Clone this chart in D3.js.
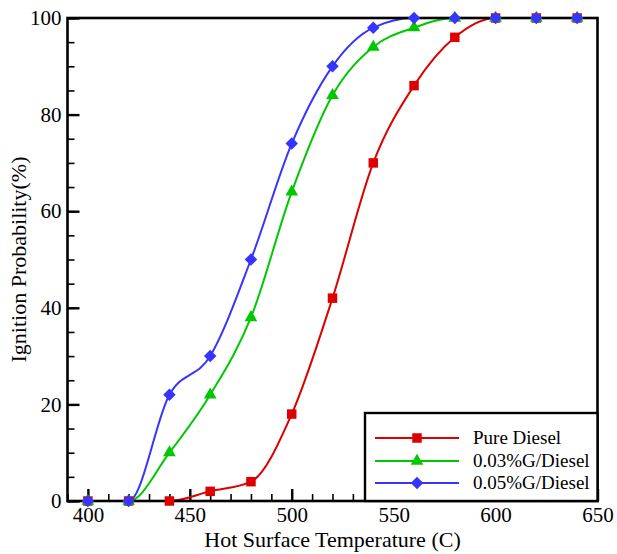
<!DOCTYPE html>
<html>
<head>
<meta charset="utf-8">
<script src="https://cdn.jsdelivr.net/npm/d3@7"></script>
<style>
  html, body { margin: 0; padding: 0; background: #fff; }
  svg { display: block; font-family: "Liberation Serif", "Times New Roman", serif; }
</style>
</head>
<body>
<svg id="chart" width="617" height="554"></svg>
<script>
// Hot surface temperatures (C)
const temperatures = [400, 420, 440, 460, 480, 500, 520, 540, 560, 580, 600, 620, 640];

// Ignition probability (%) per fuel
const pureDiesel = [0, 0, 0, 2, 4, 18, 42, 70, 86, 96, 100, 100, 100];
const g003Diesel = [0, 0, 10, 22, 38, 64, 84, 94, 98, 100, 100, 100, 100];
const g005Diesel = [0, 0, 22, 30, 50, 74, 90, 98, 100, 100, 100, 100, 100];

const seriesNames = ["Pure Diesel", "0.03%G/Diesel", "0.05%G/Diesel"];

// Axis ticks
const xMajorTicks = [400, 450, 500, 550, 600, 650];
const xMinorTicks = d3.range(390, 651, 10);
const yMajorTicks = [0, 20, 40, 60, 80, 100];
const yMinorTicks = d3.range(0, 101, 5);

const serifFont = "'Liberation Serif', 'Times New Roman', serif";

const svg = d3.select("#chart");
const plotLeft = 67.5, plotRight = 597.5, plotTop = 18, plotBottom = 501;

const x = d3.scaleLinear().domain([390, 650]).range([plotLeft, plotRight]);
const y = d3.scaleLinear().domain([0, 100]).range([plotBottom, plotTop]);

// Marker shapes: square, triangle, and a square turned 45 degrees
const series = [
  { name: seriesNames[0], values: pureDiesel, color: "#dd0000", symbol: d3.symbolSquare, size: 90, rotate: 0 },
  { name: seriesNames[1], values: g003Diesel, color: "#00c800", symbol: d3.symbolTriangle, size: 70, rotate: 0 },
  { name: seriesNames[2], values: g005Diesel, color: "#3535ff", symbol: d3.symbolSquare, size: 78, rotate: 45 }
];

// Inward ticks: minor then major
const tickStyle = g => {
  g.attr("font-family", serifFont).attr("font-size", 21);
  g.select(".domain").remove();
  g.selectAll(".tick line").attr("stroke", "#000").attr("stroke-width", 1.6);
  g.selectAll(".tick text").attr("fill", "#000");
};

svg.append("g").attr("transform", `translate(0,${plotBottom})`)
  .call(d3.axisBottom(x).tickValues(xMinorTicks).tickSize(-7).tickFormat(""))
  .call(tickStyle);
svg.append("g").attr("transform", `translate(0,${plotBottom})`)
  .call(d3.axisBottom(x).tickValues(xMajorTicks).tickSize(-12).tickPadding(6).tickFormat(d3.format("d")))
  .call(tickStyle)
  .call(g => g.selectAll(".tick line").attr("stroke-width", 2.4));

svg.append("g").attr("transform", `translate(${plotLeft},0)`)
  .call(d3.axisLeft(y).tickValues(yMinorTicks).tickSize(-7).tickFormat(""))
  .call(tickStyle);
svg.append("g").attr("transform", `translate(${plotLeft},0)`)
  .call(d3.axisLeft(y).tickValues(yMajorTicks).tickSize(-12).tickPadding(6).tickFormat(d3.format("d")))
  .call(tickStyle)
  .call(g => g.selectAll(".tick line").attr("stroke-width", 2.4));

// Curves and markers
const line = d3.line()
  .x((d, i) => x(temperatures[i]))
  .y(d => y(d))
  .curve(d3.curveMonotoneX);

series.forEach(s => {
  svg.append("path")
    .attr("d", line(s.values))
    .attr("fill", "none")
    .attr("stroke", s.color)
    .attr("stroke-width", 2);
});

// Plot frame
svg.append("rect")
  .attr("x", plotLeft).attr("y", plotTop)
  .attr("width", plotRight - plotLeft).attr("height", plotBottom - plotTop)
  .attr("fill", "none").attr("stroke", "#000").attr("stroke-width", 2.6);

series.forEach(s => {
  svg.append("g").selectAll("path")
    .data(s.values)
    .join("path")
    .attr("transform", (d, i) => `translate(${x(temperatures[i])},${y(d)}) rotate(${s.rotate})`)
    .attr("d", d3.symbol().type(s.symbol).size(s.size))
    .attr("fill", s.color);
});

// Axis titles
svg.append("text")
  .attr("x", (plotLeft + plotRight) / 2).attr("y", 547)
  .attr("text-anchor", "middle")
  .attr("font-family", serifFont)
  .attr("font-size", 22)
  .text("Hot Surface Temperature (C)");

svg.append("text")
  .attr("transform", `translate(26,${(plotTop + plotBottom) / 2}) rotate(-90)`)
  .attr("text-anchor", "middle")
  .attr("font-family", serifFont)
  .attr("font-size", 22)
  .text("Ignition Probability(%)");

// Legend
const legend = svg.append("g");
legend.append("rect")
  .attr("x", 365).attr("y", 413)
  .attr("width", plotRight - 365).attr("height", plotBottom - 413)
  .attr("fill", "#fff").attr("stroke", "#000").attr("stroke-width", 2.4);

const rowY = [438, 461, 483];
series.forEach((s, i) => {
  legend.append("line")
    .attr("x1", 375).attr("x2", 459)
    .attr("y1", rowY[i]).attr("y2", rowY[i])
    .attr("stroke", s.color).attr("stroke-width", 2);
  legend.append("path")
    .attr("transform", `translate(417,${rowY[i]}) rotate(${s.rotate})`)
    .attr("d", d3.symbol().type(s.symbol).size(s.size))
    .attr("fill", s.color);
  legend.append("text")
    .attr("x", 473).attr("y", rowY[i])
    .attr("dy", "0.33em")
    .attr("font-family", serifFont)
    .attr("font-size", 19)
    .text(s.name);
});
</script>
</body>
</html>
